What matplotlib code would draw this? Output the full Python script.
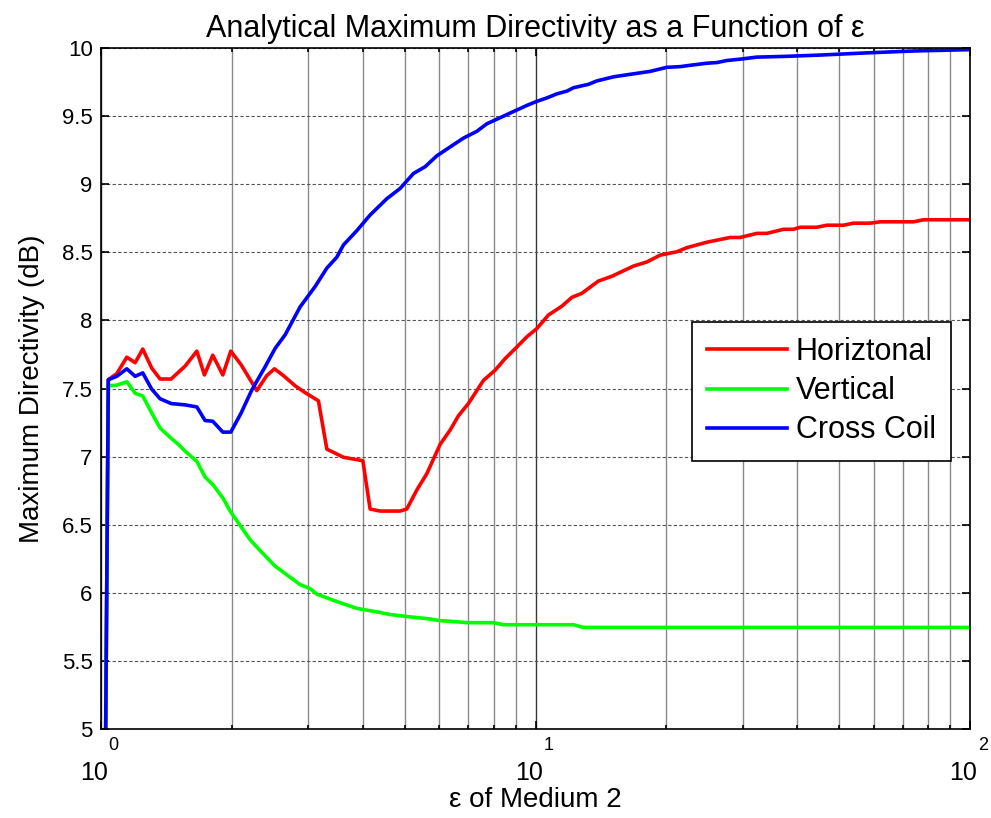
import matplotlib
matplotlib.use('Agg')
import matplotlib.pyplot as plt
from matplotlib.ticker import FixedLocator, LogLocator, NullFormatter

plt.rcParams['font.family'] = ['Liberation Sans', 'DejaVu Sans']

# data (epsilon of medium 2 vs directivity in dB)
horiz_eps = [1.0, 1.039, 1.087, 1.146, 1.198, 1.247, 1.308, 1.367, 1.449, 1.561,
             1.661, 1.729, 1.807, 1.906, 1.988, 2.100, 2.282, 2.406, 2.506, 2.628,
             2.797, 2.948, 3.163, 3.308, 3.612, 4.003, 4.160, 4.386, 4.877, 5.053,
             5.329, 5.619, 6.029, 6.357, 6.643, 7.003, 7.585, 8.069, 8.508, 9.051,
             9.544, 10.06, 10.70, 11.49, 12.12, 12.78, 13.95, 14.98, 16.80, 18.03,
             19.34, 21.13, 22.28, 24.77, 28.04, 29.56, 32.29, 34.05, 37.18, 39.20,
             40.62, 44.38, 46.80, 51.10, 53.87, 58.88, 62.08, 74.05, 78.07, 100.0]
horiz_db = [0.5, 7.565, 7.61, 7.73, 7.69, 7.79, 7.65, 7.57, 7.57, 7.665,
            7.775, 7.60, 7.745, 7.60, 7.775, 7.675, 7.485, 7.595, 7.645, 7.595,
            7.52, 7.47, 7.41, 7.055, 6.995, 6.97, 6.615, 6.60, 6.60, 6.615,
            6.755, 6.875, 7.09, 7.195, 7.30, 7.39, 7.56, 7.635, 7.72, 7.805,
            7.88, 7.94, 8.04, 8.105, 8.17, 8.20, 8.29, 8.325, 8.40, 8.43,
            8.48, 8.505, 8.535, 8.575, 8.61, 8.61, 8.64, 8.64, 8.67, 8.67,
            8.685, 8.685, 8.70, 8.70, 8.715, 8.715, 8.725, 8.725, 8.74, 8.74]

vert_eps = [1.0, 1.039, 1.087, 1.146, 1.198, 1.247, 1.308, 1.367, 1.449, 1.506,
            1.561, 1.661, 1.735, 1.813, 1.912, 1.981, 2.202, 2.322, 2.515, 2.628,
            2.871, 3.027, 3.136, 3.488, 3.877, 4.386, 4.625, 5.053, 5.619, 6.029,
            7.003, 7.995, 8.432, 12.22, 12.88, 100.0]
vert_db = [0.5, 7.52, 7.525, 7.55, 7.465, 7.445, 7.32, 7.21, 7.135, 7.09,
           7.04, 6.965, 6.85, 6.79, 6.69, 6.60, 6.39, 6.31, 6.195, 6.15,
           6.06, 6.03, 5.99, 5.935, 5.885, 5.855, 5.84, 5.825, 5.81, 5.795,
           5.78, 5.78, 5.765, 5.765, 5.745, 5.745]

cross_eps = [1.0, 1.039, 1.087, 1.146, 1.198, 1.247, 1.308, 1.367, 1.449, 1.561,
             1.661, 1.735, 1.807, 1.906, 1.988, 2.100, 2.223, 2.385, 2.515, 2.652,
             2.871, 3.109, 3.308, 3.487, 3.612, 3.877, 4.160, 4.546, 4.877, 5.234,
             5.569, 5.925, 6.357, 6.822, 7.323, 7.721, 8.287, 8.891, 9.544, 10.06,
             10.61, 11.19, 11.80, 12.22, 13.23, 13.83, 15.10, 16.22, 18.34, 20.04,
             21.51, 22.68, 24.77, 26.12, 27.54, 29.56, 32.29, 37.18, 45.17, 56.81,
             74.05, 100.0]
cross_db = [0.5, 7.565, 7.59, 7.645, 7.59, 7.615, 7.495, 7.425, 7.39, 7.38,
            7.365, 7.265, 7.26, 7.18, 7.18, 7.32, 7.49, 7.66, 7.795, 7.895,
            8.10, 8.25, 8.385, 8.465, 8.555, 8.66, 8.775, 8.895, 8.97, 9.08,
            9.13, 9.21, 9.275, 9.34, 9.39, 9.445, 9.49, 9.535, 9.58, 9.61,
            9.635, 9.665, 9.685, 9.71, 9.735, 9.76, 9.79, 9.805, 9.83, 9.86,
            9.865, 9.875, 9.89, 9.895, 9.91, 9.92, 9.935, 9.94, 9.95, 9.965,
            9.98, 9.99]

series_names = ['Horiztonal', 'Vertical', 'Cross Coil']
series_colors = ['#ff0000', '#00ff00', '#0000ff']

x_major = [1, 10, 100]
x_exponents = ['0', '1', '2']
y_ticks = [5, 5.5, 6, 6.5, 7, 7.5, 8, 8.5, 9, 9.5, 10]
y_labels = ['5', '5.5', '6', '6.5', '7', '7.5', '8', '8.5', '9', '9.5', '10']

fig = plt.figure(figsize=(9.91, 8.18), dpi=100)
ax = fig.add_axes([0.102, 0.109, 0.877, 0.832])

ax.plot(horiz_eps, horiz_db, color=series_colors[0], lw=2.6, label=series_names[0])
ax.plot(vert_eps, vert_db, color=series_colors[1], lw=2.6, label=series_names[1])
ax.plot(cross_eps, cross_db, color=series_colors[2], lw=2.6, label=series_names[2])

ax.set_xscale('log')
ax.set_xlim(1, 100)
ax.set_ylim(5, 10)

ax.set_yticks(y_ticks)
ax.set_yticklabels(y_labels)
ax.xaxis.set_major_locator(FixedLocator(x_major))
ax.xaxis.set_minor_locator(LogLocator(base=10, subs=range(2, 10)))
ax.xaxis.set_minor_formatter(NullFormatter())
ax.set_xticklabels([])

# MATLAB style "10" with the exponent raised above-right of it
for xv, e in zip(x_major, x_exponents):
    ax.annotate('10', xy=(xv, 0), xycoords=('data', 'axes fraction'),
                xytext=(5, -23), textcoords='offset points',
                ha='right', va='top', fontsize=18)
    ax.annotate(e, xy=(xv, 0), xycoords=('data', 'axes fraction'),
                xytext=(5.5, -6), textcoords='offset points',
                ha='left', va='top', fontsize=13)

# grid: dashed horizontals, solid grey verticals at minor positions
ax.yaxis.grid(True, which='major', linestyle=(0, (3, 2)), color='#555555', lw=0.8)
ax.xaxis.grid(True, which='minor', linestyle='-', color='#8a8a8a', lw=1.0)
ax.xaxis.grid(True, which='major', linestyle='-', color='#3a3a3a', lw=1.0)
ax.set_axisbelow(True)

ax.tick_params(axis='both', which='both', direction='in', top=True, right=True,
               labelsize=16, colors='black')
ax.tick_params(axis='both', which='major', length=6, width=1.2)
ax.tick_params(axis='x', which='minor', length=3, width=1.2)
ax.tick_params(axis='y', which='major', pad=6)
for s in ax.spines.values():
    s.set_linewidth(1.2)

ax.set_title('Analytical Maximum Directivity as a Function of ε', fontsize=22, pad=8)
ax.set_xlabel('ε of Medium 2', fontsize=20, va='top')
ax.xaxis.set_label_coords(0.5, -0.086)
ax.set_ylabel('Maximum Directivity (dB)', fontsize=20, labelpad=12)

leg = ax.legend(loc='upper left', bbox_to_anchor=(0.68, 0.598), fontsize=22,
                fancybox=False, framealpha=1, edgecolor='black',
                handlelength=2.6, handletextpad=0.3, borderpad=0.5,
                labelspacing=0.3, borderaxespad=0)
leg.get_frame().set_linewidth(1.2)
for line in leg.get_lines():
    line.set_linewidth(2.6)

plt.savefig('out.png', dpi=100)
